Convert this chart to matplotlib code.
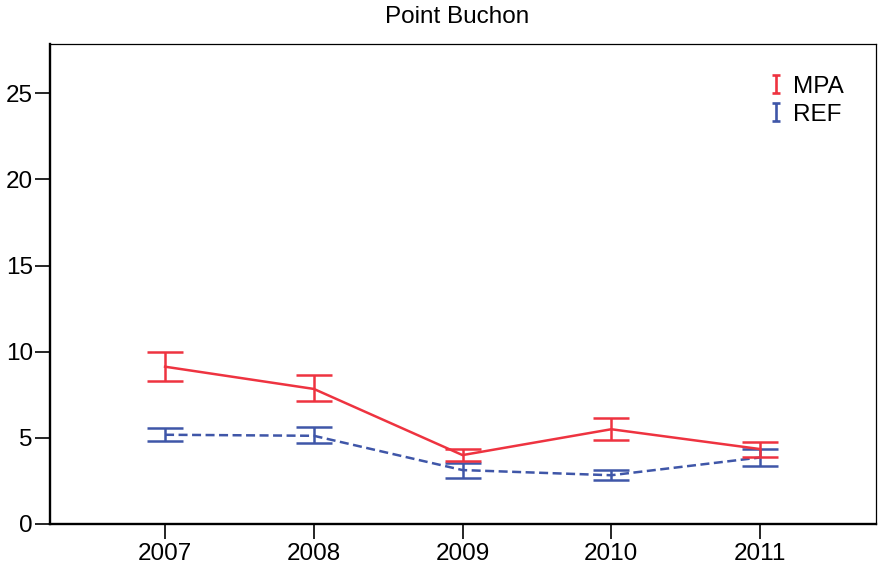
import matplotlib
matplotlib.use("Agg")
import matplotlib.pyplot as plt
from matplotlib.path import Path
from matplotlib.lines import Line2D

plt.rcParams['font.family'] = ['Liberation Sans', 'DejaVu Sans']

years = [2007, 2008, 2009, 2010, 2011]
mpa_mean = [9.13, 7.84, 4.00, 5.50, 4.35]
mpa_upper = [9.97, 8.63, 4.34, 6.13, 4.78]
mpa_lower = [8.32, 7.12, 3.66, 4.88, 3.91]
ref_mean = [5.18, 5.12, 3.13, 2.83, 3.86]
ref_upper = [5.57, 5.61, 3.52, 3.13, 4.35]
ref_lower = [4.80, 4.68, 2.69, 2.55, 3.37]
yticks = [0, 5, 10, 15, 20, 25]
title = "Point Buchon"
series_labels = ["MPA", "REF"]

RED = "#EE3340"
BLUE = "#3F56A8"
FS = 17.5

fig = plt.figure(figsize=(8.8, 5.65), dpi=100)
ax = fig.add_axes([49.5/880, 41/565, (876-49.5)/880, (524-44)/565])

def err(mean, up, lo):
    return [[m - l for m, l in zip(mean, lo)], [u - m for m, u in zip(mean, up)]]

ax.errorbar(years, ref_mean, yerr=err(ref_mean, ref_upper, ref_lower), color=BLUE,
            lw=1.8, dashes=(3.6, 1.8), elinewidth=1.8, capsize=13.3, capthick=1.8, zorder=2)
ax.errorbar(years, mpa_mean, yerr=err(mpa_mean, mpa_upper, mpa_lower), color=RED,
            lw=1.8, elinewidth=1.8, capsize=13.3, capthick=1.8, zorder=3)

ax.set_xlim(2006.223, 2011.78)
ax.set_ylim(0, 27.86)
ax.set_xticks(years)
ax.set_xticklabels([str(y) for y in years])
ax.set_yticks(yticks)
ax.tick_params(axis='both', labelsize=FS, length=11, width=1.2, direction='out', color='black')
ax.tick_params(axis='y', pad=1)
ax.tick_params(axis='x', pad=3)
for s in ['left', 'bottom']:
    ax.spines[s].set_linewidth(1.7)
for s in ['top', 'right']:
    ax.spines[s].set_linewidth(0.9)

ax.set_title(title, fontsize=FS, pad=15, x=0.493)

ipath = Path([(-0.4, -1), (0.4, -1), (0, -1), (0, 1), (-0.4, 1), (0.4, 1)],
             [Path.MOVETO, Path.LINETO, Path.MOVETO, Path.LINETO, Path.MOVETO, Path.LINETO])
handles = [Line2D([], [], linestyle='none', marker=ipath, markersize=13, markerfacecolor='none',
                  markeredgecolor=c, markeredgewidth=1.9) for c in (RED, BLUE)]
ax.legend(handles, series_labels, loc='upper left', bbox_to_anchor=(0.869, 0.934),
          frameon=False, fontsize=FS, handlelength=0.67, handletextpad=0.35,
          labelspacing=0.25, borderpad=0, borderaxespad=0)

fig.savefig("out.png", dpi=100)
